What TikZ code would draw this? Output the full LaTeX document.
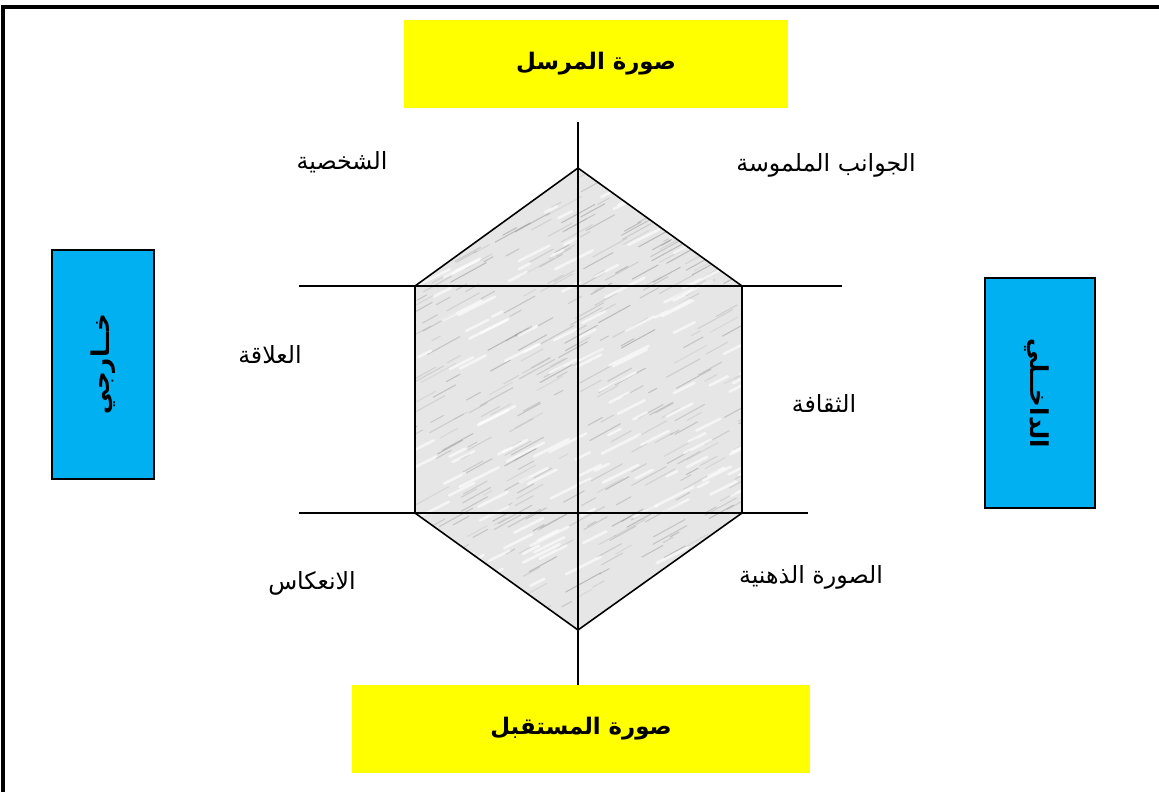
\documentclass[tikz,border=0pt]{standalone}
\usepackage{fontspec}
\newfontfamily\arabicfont[Script=Arabic]{DejaVu Sans}
\TeXXeTstate=1
\usetikzlibrary{positioning}
\definecolor{Yellow}{HTML}{FFFF00}
\definecolor{SkyBlue}{HTML}{00B0F0}
\definecolor{Marble}{HTML}{E6E6E6}
\definecolor{Vein}{HTML}{8F8F8F}
\tikzset{
  titlebox/.style={fill=Yellow, inner sep=0pt, minimum height=1.76cm, align=center, font=\arabicfont\fontsize{13}{15}\selectfont\bfseries},
  sidebox/.style={draw=black, line width=0.8pt, fill=SkyBlue, inner sep=0pt, align=center, font=\arabicfont\fontsize{14}{16}\selectfont\bfseries},
  lbl/.style={font=\arabicfont\fontsize{13.5}{16}\selectfont, inner sep=1pt},
  axis/.style={line width=0.7pt, draw=black},
  hexline/.style={line width=0.9pt, draw=black, line join=miter}
}

\begin{document}
\begin{tikzpicture}[x=0.02cm,y=-0.02cm]
\clip (0,0) rectangle (1159,791);
% outer frame, its right and bottom sides fall off the page
\draw[line width=2.2pt] (3,7) rectangle (1175,805);

% hexagon corners
\coordinate (hexT) at (578,168);
\coordinate (hexUR) at (742,286);
\coordinate (hexLR) at (742,513);
\coordinate (hexB) at (578,630);
\coordinate (hexLL) at (415,513);
\coordinate (hexUL) at (415,286);

% marble fill
\begin{scope}
  \clip (hexT) -- (hexUR) -- (hexLR) -- (hexB) -- (hexLL) -- (hexUL) -- cycle;
  \fill[Marble] (400,160) rectangle (760,640);
  \pgfmathsetseed{11}
  \foreach \k in {1,...,420}{
    \pgfmathsetmacro\mx{395+360*rnd}
    \pgfmathsetmacro\my{165+470*rnd}
    \pgfmathsetmacro\ml{8+28*rnd}
    \pgfmathsetmacro\mo{0.15+0.35*rnd}
    \draw[Vein, line width=0.6pt, opacity=\mo, line cap=round] (\mx,\my) -- ++(\ml,-0.55*\ml);
  }
  \foreach \k in {1,...,180}{
    \pgfmathsetmacro\mx{395+360*rnd}
    \pgfmathsetmacro\my{165+470*rnd}
    \pgfmathsetmacro\ml{10+30*rnd}
    \draw[white, line width=1.5pt, opacity=0.6, line cap=round] (\mx,\my) -- ++(\ml,-0.5*\ml);
  }
\end{scope}

% axes
\coordinate (vTop) at (578,122);
\coordinate (vBot) at (578,685);
\coordinate (hUpL) at (299,286);
\coordinate (hUpR) at (842,286);
\coordinate (hLoL) at (299,513);
\coordinate (hLoR) at (808,513);
\draw[axis] (vTop) -- (vBot);
\draw[axis] (hUpL) -- (hUpR);
\draw[axis] (hLoL) -- (hLoR);
\draw[hexline] (hexT) -- (hexUR) -- (hexLR) -- (hexB) -- (hexLL) -- (hexUL) -- cycle;

% boxes
\node[titlebox, minimum width=7.68cm] (sender) at (596,64) {\beginR صورة المرسل\endR};
\node[titlebox, minimum width=9.16cm] (receiver) at (581,729) {\beginR صورة المستقبل\endR};
\node[sidebox, rotate=90, minimum width=4.58cm, minimum height=2.04cm] (outer) at (103,364.5) {\beginR خــارجي\endR};
\node[sidebox, rotate=-90, minimum width=4.6cm, minimum height=2.2cm, text depth=0pt] (inner) at (1040,393) {\beginR الداخــلي\endR};

% labels round the hexagon
\node[lbl] (persona) at (342,162) {\beginR الشخصية\endR};
\node[lbl] (tangible) at (826,165) {\beginR الجوانب الملموسة\endR};
\node[lbl] (relation) at (270,355) {\beginR العلاقة\endR};
\node[lbl] (culture) at (824,403) {\beginR الثقافة\endR};
\node[lbl] (reflection) at (312,583) {\beginR الانعكاس\endR};
\node[lbl] (mental) at (811,577) {\beginR الصورة الذهنية\endR};
\end{tikzpicture}
\end{document}
